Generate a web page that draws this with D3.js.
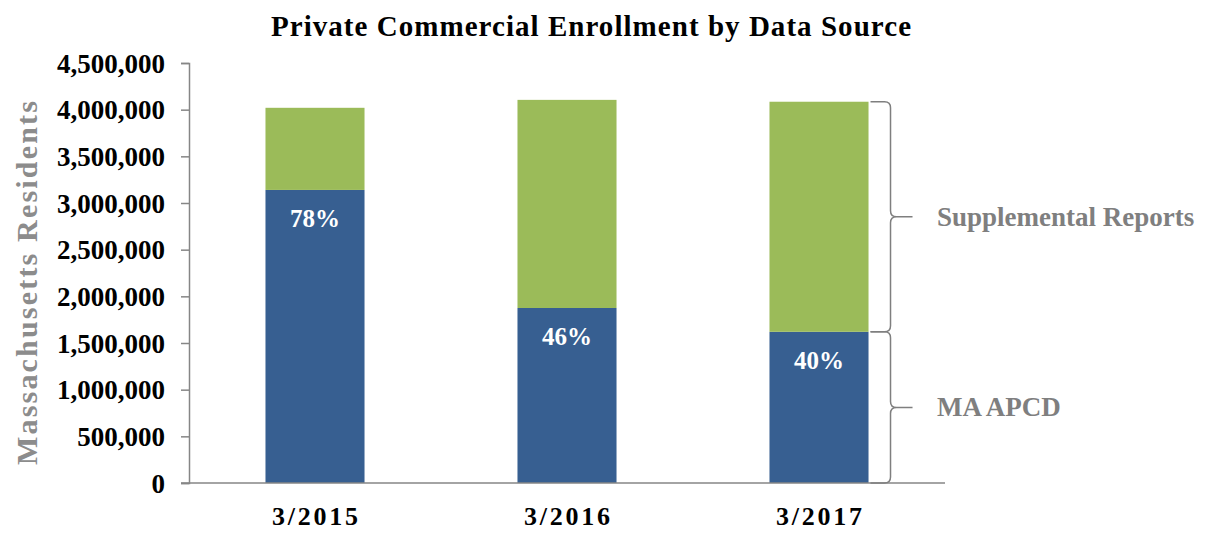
<!DOCTYPE html>
<html lang="en">
<head>
  <meta charset="UTF-8">
  <script src="https://d3js.org/d3.v7.min.js"></script>
  <title>Private Commercial Enrollment by Data Source</title>
  <style>
    body { margin:0; background:#fff; }
    text { font-family: "Liberation Serif", "DejaVu Serif", serif; font-weight:bold; }
  </style>
</head>
<body>
  <svg id="chart" width="1216" height="533"></svg>
  <script>
    const periods = ["3/2015", "3/2016", "3/2017"];
    const apcd = [3140000, 1875000, 1620000];          // MA APCD
    const supplemental = [880000, 2230000, 2465000];   // Supplemental Reports
    const shareLabels = ["78%", "46%", "40%"];
    const yTicks = [0, 500000, 1000000, 1500000, 2000000, 2500000, 3000000, 3500000, 4000000, 4500000];

    const svg = d3.select("#chart");
    const mLeft = 189, mRight = 945, mTop = 63, mBottom = 483;

    const x = d3.scaleBand().domain(periods).range([mLeft, mRight])
      .paddingInner(0.607).paddingOuter(0.3035);
    const y = d3.scaleLinear().domain([0, 4500000]).range([mBottom, mTop]);

    // title
    svg.append("text")
      .attr("x", 591).attr("y", 36)
      .attr("text-anchor", "middle")
      .attr("textLength", 640).attr("lengthAdjust", "spacing")
      .style("font-size", "29px")
      .text("Private Commercial Enrollment by Data Source");

    // y axis
    const yAxis = d3.axisLeft(y).tickValues(yTicks).tickSize(8).tickPadding(16)
      .tickFormat(d3.format(","));
    const yG = svg.append("g").attr("transform", `translate(${mLeft},0)`).call(yAxis);
    yG.select(".domain").attr("stroke", "#868686").attr("stroke-width", 1.5);
    yG.selectAll(".tick line").attr("stroke", "#868686").attr("stroke-width", 1.5);
    yG.selectAll(".tick text").attr("fill", "#000").style("font-size", "27px")
      .style("font-family", "'Liberation Serif', serif").attr("dy", "0.34em");

    svg.append("text")
      .attr("transform", "translate(37,283) rotate(-90)")
      .attr("text-anchor", "middle")
      .attr("textLength", 364).attr("lengthAdjust", "spacing")
      .attr("fill", "#8c8c8c")
      .style("font-size", "30px")
      .text("Massachusetts Residents");

    // stacked bars
    const rows = periods.map((p, i) => ({ p, a: apcd[i], s: supplemental[i], lab: shareLabels[i] }));
    const bars = svg.append("g");
    bars.selectAll(".apcd").data(rows).enter().append("rect")
      .attr("x", d => x(d.p)).attr("width", x.bandwidth())
      .attr("y", d => y(d.a)).attr("height", d => y(0) - y(d.a))
      .attr("fill", "#375f91");
    bars.selectAll(".supp").data(rows).enter().append("rect")
      .attr("x", d => x(d.p)).attr("width", x.bandwidth())
      .attr("y", d => y(d.a + d.s)).attr("height", d => y(d.a) - y(d.a + d.s))
      .attr("fill", "#9bbb59");
    bars.selectAll(".lab").data(rows).enter().append("text")
      .attr("x", d => x(d.p) + x.bandwidth() / 2)
      .attr("y", d => y(d.a) + 37)
      .attr("text-anchor", "middle")
      .attr("fill", "#fff")
      .style("font-size", "25px")
      .text(d => d.lab);

    // x axis
    svg.append("line").attr("x1", mLeft - 8).attr("x2", mRight)
      .attr("y1", mBottom).attr("y2", mBottom)
      .attr("stroke", "#868686").attr("stroke-width", 1.5);
    svg.selectAll(".xlab").data(periods).enter().append("text")
      .attr("x", d => x(d) + x.bandwidth() / 2)
      .attr("y", 525)
      .attr("text-anchor", "middle")
      .attr("textLength", 86).attr("lengthAdjust", "spacing")
      .style("font-size", "26px")
      .text(d => d);

    // braces next to last bar
    function brace(y0, y1) {
      const x0 = x(periods[2]) + x.bandwidth() + 2, xv = x0 + 20, xt = xv + 22, r = 6;
      const m = (y0 + y1) / 2;
      return `M${x0},${y0} L${xv - r},${y0} Q${xv},${y0} ${xv},${y0 + r} L${xv},${m - r} Q${xv},${m} ${xv + r},${m} L${xt},${m}` +
        ` M${xv + r},${m} Q${xv},${m} ${xv},${m + r} L${xv},${y1 - r} Q${xv},${y1} ${xv - r},${y1} L${x0},${y1}`;
    }
    const last = rows[2];
    const braces = [
      { y0: y(last.a + last.s), y1: y(last.a), name: "Supplemental Reports" },
      { y0: y(last.a), y1: y(0), name: "MA APCD" }
    ];
    svg.selectAll(".brace").data(braces).enter().append("path")
      .attr("d", d => brace(d.y0, d.y1))
      .attr("fill", "none").attr("stroke", "#7f7f7f").attr("stroke-width", 1.5);
    svg.selectAll(".bname").data(braces).enter().append("text")
      .attr("x", 937).attr("y", d => (d.y0 + d.y1) / 2 + 9)
      .attr("fill", "#7f7f7f")
      .style("font-size", "27px")
      .text(d => d.name);
  </script>
</body>
</html>
